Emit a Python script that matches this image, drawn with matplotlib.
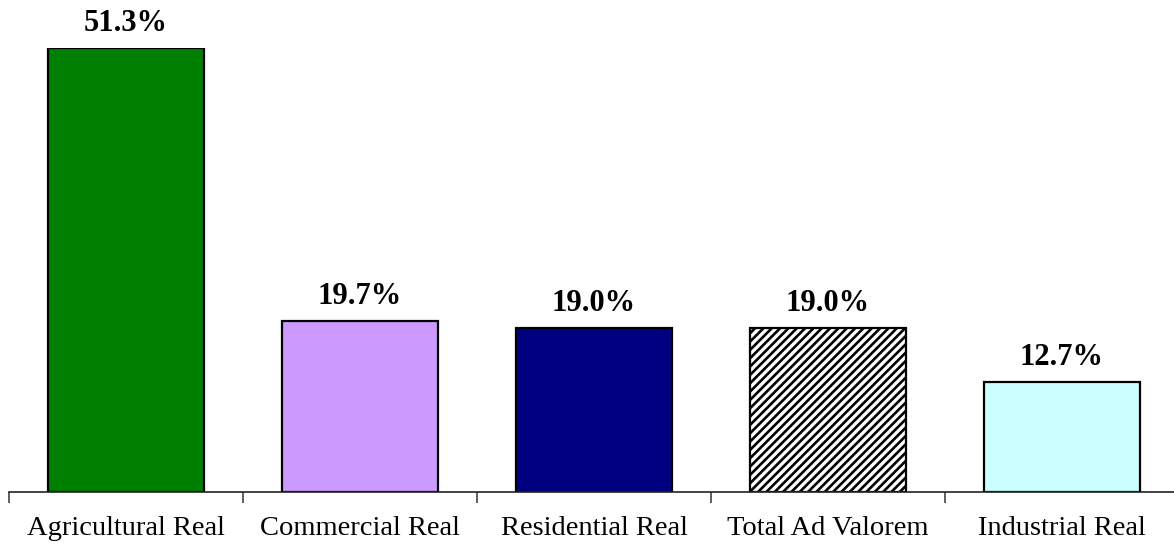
import matplotlib.pyplot as plt
import numpy as np

plt.rcParams['font.family'] = ['Liberation Serif', 'DejaVu Serif']
plt.rcParams['hatch.linewidth'] = 1.9

categories = ['Agricultural Real', 'Commercial Real', 'Residential Real',
              'Total Ad Valorem', 'Industrial Real']
values = [51.3, 19.7, 19.0, 19.0, 12.7]
colors = ['#008000', '#CC99FF', '#000080', 'white', '#CCFFFF']
hatches = [None, None, None, '////', None]

fig = plt.figure(figsize=(11.74, 5.54), dpi=100)
ax = fig.add_axes([9 / 1174, 62 / 554, 1170 / 1174, 444 / 554])

x = np.arange(len(categories))
bars = ax.bar(x, values, width=2 / 3, color=colors, edgecolor='black', linewidth=1.6)
for bar, h in zip(bars, hatches):
    if h:
        bar.set_hatch(h)

for bar, v in zip(bars, values):
    ax.annotate(f'{v:.1f}%', (bar.get_x() + bar.get_width() / 2, v),
                xytext=(0, 10), textcoords='offset pixels',
                ha='center', va='bottom', fontsize=22, fontweight='bold')

ax.set_xlim(-0.5, len(categories) - 0.5)
ax.set_ylim(0, 51.3)

for side in ['top', 'right', 'left']:
    ax.spines[side].set_visible(False)
ax.spines['bottom'].set_color('#222222')
ax.spines['bottom'].set_linewidth(1.2)
ax.set_yticks([])

# category boundaries carry the tick marks, labels sit under the bars
ax.set_xticks(np.arange(-0.5, len(categories)), minor=True)
ax.set_xticks(x)
ax.set_xticklabels(categories, fontsize=20.5)
ax.tick_params(axis='x', which='major', length=0, pad=17)
ax.tick_params(axis='x', which='minor', length=8, width=1.2,
               color='#444444', direction='out')

fig.savefig('out.png', dpi=100)
